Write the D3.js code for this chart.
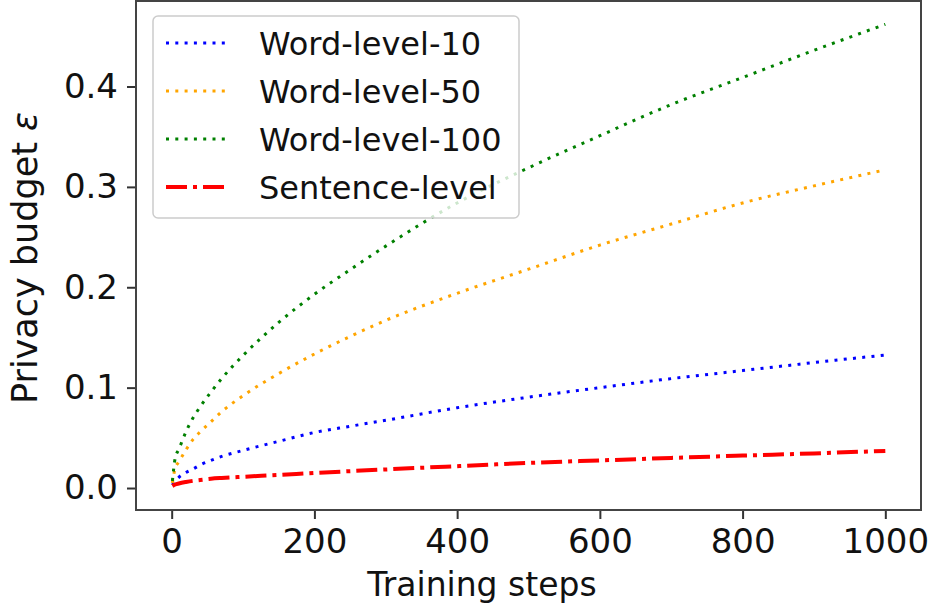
<!DOCTYPE html>
<html>
<head>
<meta charset="utf-8" />
<title>Privacy budget vs training steps</title>
<script src="https://cdnjs.cloudflare.com/ajax/libs/d3/7.8.5/d3.min.js"></script>
<style>
	html, body { margin: 0; background: #fff; }
	svg text { font-family: "DejaVu Sans", sans-serif; fill: #111; }
</style>
</head>
<body>
<svg id="chart" width="933" height="613"></svg>
<script>
// values
var steps     = [1, 5, 10, 20, 30, 40, 55, 70, 100, 150, 200, 250, 300, 400, 500, 600, 700, 800, 900, 1000];
var word10    = [0.003, 0.007, 0.0107, 0.0155, 0.019, 0.023, 0.0275, 0.0315, 0.0375, 0.0465, 0.0553, 0.0615, 0.0675, 0.080, 0.0905, 0.100, 0.109, 0.117, 0.125, 0.1325];
var word50    = [0.005, 0.020, 0.026, 0.038, 0.0485, 0.056, 0.066, 0.076, 0.092, 0.114, 0.1335, 0.151, 0.167, 0.194, 0.218, 0.242, 0.263, 0.284, 0.301, 0.317];
var word100   = [0.007, 0.030, 0.0385, 0.056, 0.070, 0.081, 0.0956, 0.109, 0.132, 0.165, 0.193, 0.2175, 0.241, 0.284, 0.319, 0.351, 0.382, 0.409, 0.436, 0.462];
var sentence  = [0.002, 0.0035, 0.0045, 0.006, 0.0072, 0.008, 0.0092, 0.010, 0.0112, 0.013, 0.015, 0.0168, 0.0185, 0.0218, 0.025, 0.0275, 0.030, 0.0323, 0.0345, 0.037];
var xTicks = [0, 200, 400, 600, 800, 1000];
var yTicks = [0.0, 0.1, 0.2, 0.3, 0.4];
var seriesNames = ["Word-level-10", "Word-level-50", "Word-level-100", "Sentence-level"];

var series = [
	{name: seriesNames[0], vals: word10,   color: "blue",   dash: "3,6.3", w: 3},
	{name: seriesNames[1], vals: word50,   color: "orange", dash: "3,6.3", w: 3},
	{name: seriesNames[2], vals: word100,  color: "green",  dash: "3,6.3", w: 3},
	{name: seriesNames[3], vals: sentence, color: "red",    dash: "21,6,4,6", w: 4}
];

var plotL = 136, plotR = 921, plotT = 1, plotB = 510;
var svg = d3.select("#chart");

var x = d3.scaleLinear().domain([-50, 1050]).range([plotL, plotR]);
var y = d3.scaleLinear().domain([-0.0219, 0.4852]).range([plotB, plotT]);

// lines
var line = d3.line().curve(d3.curveMonotoneX);
series.forEach(function(s) {
	svg.append("path")
		.attr("d", line(steps.map(function(t, i) { return [x(t), y(s.vals[i])]; })))
		.attr("fill", "none")
		.attr("stroke", s.color)
		.attr("stroke-width", s.w)
		.attr("stroke-dasharray", s.dash);
});

// axes
var xAxis = d3.axisBottom(x).tickValues(xTicks).tickSize(9).tickPadding(10).tickFormat(d3.format("d"));
var gx = svg.append("g").attr("transform", "translate(0," + plotB + ")").call(xAxis);
var yAxis = d3.axisLeft(y).tickValues(yTicks).tickSize(9).tickPadding(9).tickFormat(d3.format(".1f"));
var gy = svg.append("g").attr("transform", "translate(" + plotL + ",0)").call(yAxis);
[gx, gy].forEach(function(g) {
	g.select(".domain").remove();
	g.selectAll(".tick line").attr("stroke", "#333").attr("stroke-width", 2);
	g.selectAll(".tick text").style("font-size", "34px").attr("fill", "#111");
});

// frame
svg.append("rect")
	.attr("x", plotL).attr("y", plotT)
	.attr("width", plotR - plotL).attr("height", plotB - plotT)
	.attr("fill", "none").attr("stroke", "#444").attr("stroke-width", 2);

// axis labels
svg.append("text")
	.attr("x", 482).attr("y", 596)
	.attr("text-anchor", "middle")
	.style("font-size", "33px")
	.text("Training steps");
var yl = svg.append("text")
	.attr("transform", "translate(37,258) rotate(-90)")
	.attr("text-anchor", "middle")
	.style("font-size", "35px");
yl.append("tspan").text("Privacy budget ");
yl.append("tspan").style("font-style", "italic").text("\u03b5");

// legend
var lg = svg.append("g");
lg.append("rect")
	.attr("x", 153).attr("y", 16).attr("width", 366).attr("height", 202)
	.attr("rx", 5)
	.attr("fill", "#fff").attr("fill-opacity", 0.8)
	.attr("stroke", "#ccc").attr("stroke-width", 1.5);
series.forEach(function(s, i) {
	var cy = 43 + i * 48;
	lg.append("line")
		.attr("x1", 166).attr("x2", 226).attr("y1", cy).attr("y2", cy)
		.attr("stroke", s.color)
		.attr("stroke-width", s.w)
		.attr("stroke-dasharray", s.dash);
	lg.append("text")
		.attr("x", 259).attr("y", cy + 12)
		.style("font-size", "32px")
		.text(s.name);
});
</script>
</body>
</html>
